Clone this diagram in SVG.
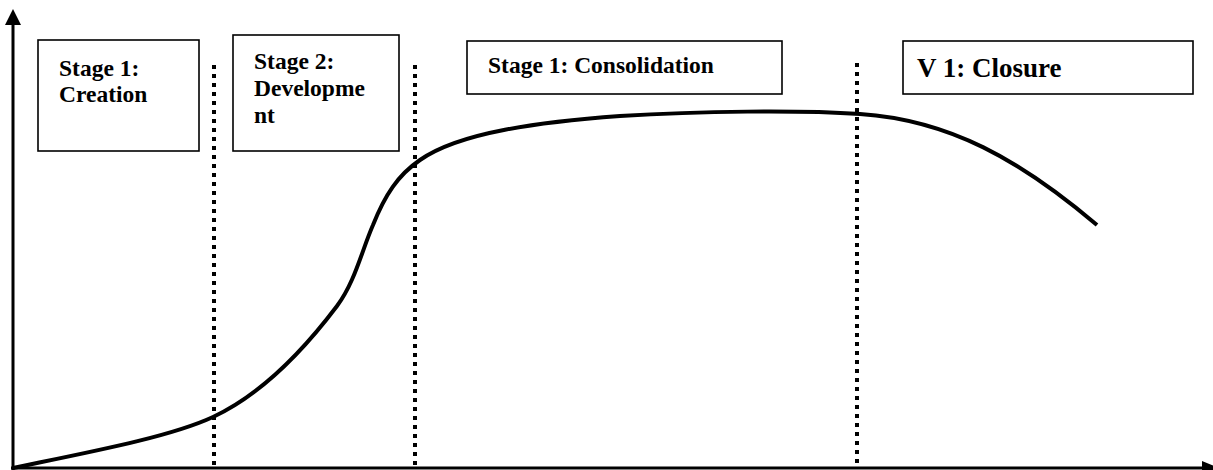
<svg xmlns="http://www.w3.org/2000/svg" width="1213" height="470" viewBox="0 0 1213 470">
  <style>
    .box { fill: #ffffff; stroke: #000000; stroke-width: 1.6; }
    .label { font-family: "Liberation Serif", "Times New Roman", serif; font-weight: bold; font-size: 23.5px; fill: #000000; }
    .divider { stroke: #000000; stroke-width: 4; stroke-dasharray: 4 5; fill: none; }
    .axis { stroke: #000000; stroke-width: 3; fill: none; }
    .curve { stroke: #000000; stroke-width: 4; fill: none; }
  </style>
  <rect width="1213" height="470" fill="#ffffff"/>

  <!-- axes -->
  <g id="axes">
    <line class="axis" x1="13" y1="470" x2="13" y2="22"/>
    <polygon points="13,9 5,25 21,25" fill="#000000"/>
    <line class="axis" x1="11" y1="468" x2="1205" y2="468"/>
    <polygon points="1202,461 1219,468 1202,475" fill="#000000"/>
  </g>

  <!-- connectors: stage dividers and growth curve -->
  <g id="connectors">
    <line class="divider" x1="214" y1="65" x2="214" y2="468"/>
    <line class="divider" x1="415" y1="65" x2="415" y2="468"/>
    <line class="divider" x1="857" y1="63" x2="857" y2="468"/>
    <path class="curve" d="M13,468 C90,452 170,437 213,417 C260,395 300,355 337,306 C355,282 362,250 373,225 C385,195 398,175 420,160 C460,132 540,122 620,116 C700,111 800,110 860,114 C950,120 1020,160 1097,225"/>
  </g>

  <!-- stage labels -->
  <g id="stage-creation">
    <rect class="box" x="38" y="40" width="161" height="111"/>
    <text class="label" x="59" y="76">Stage 1:</text>
    <text class="label" x="59" y="102">Creation</text>
  </g>
  <g id="stage-development">
    <rect class="box" x="233" y="35" width="166" height="116"/>
    <text class="label" x="254" y="69">Stage 2:</text>
    <text class="label" x="254" y="96">Developme</text>
    <text class="label" x="254" y="123">nt</text>
  </g>
  <g id="stage-consolidation">
    <rect class="box" x="467" y="41" width="315" height="53"/>
    <text class="label" x="488" y="73">Stage 1: Consolidation</text>
  </g>
  <g id="stage-closure">
    <rect class="box" x="903" y="41" width="290" height="53"/>
    <text class="label" x="917" y="77" style="font-size:27px">V 1: Closure</text>
  </g>
</svg>
